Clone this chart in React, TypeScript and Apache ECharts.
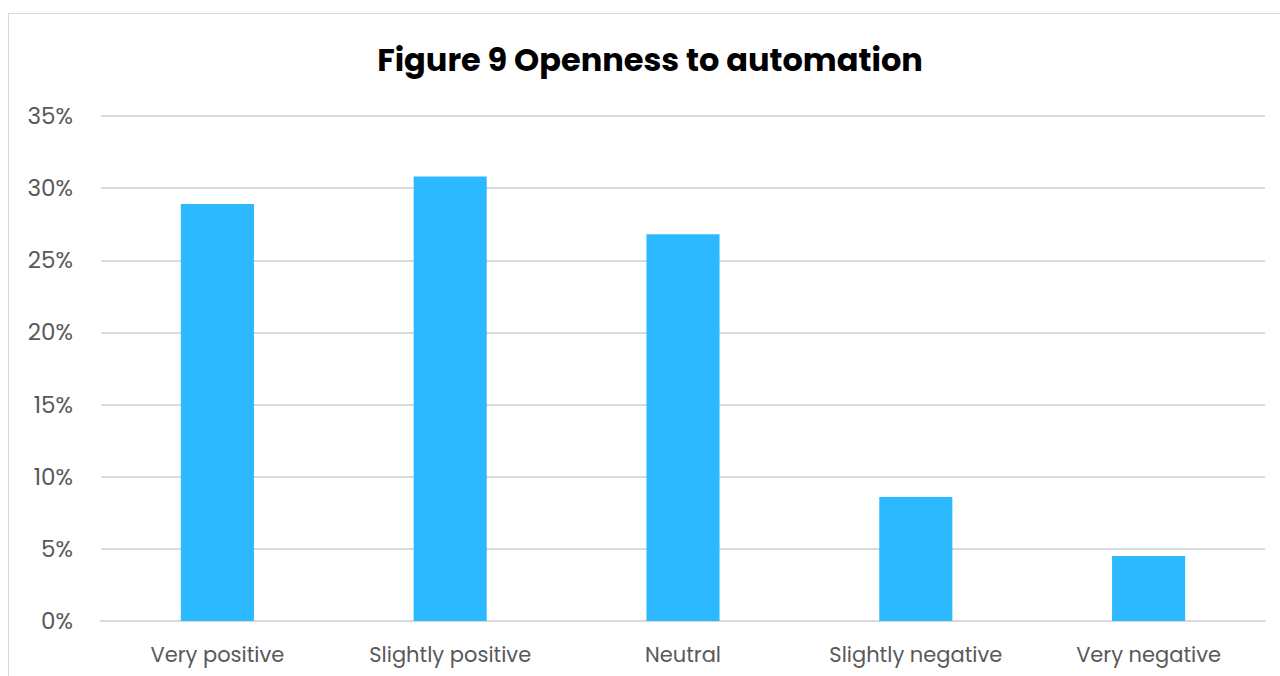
import React, { useEffect, useRef } from "react";
import * as echarts from "echarts";

const categories = ["Very positive", "Slightly positive", "Neutral", "Slightly negative", "Very negative"];
const values = [28.9, 30.8, 26.8, 8.6, 4.5];
const titleText = "Figure 9 Openness to automation";

export default function App() {
  const ref = useRef<HTMLDivElement>(null);
  useEffect(() => {
    document.body.style.overflow = "hidden";
    const chart = echarts.init(ref.current!, null, { renderer: "svg" });
    const font = "Poppins, 'Open Sans', sans-serif";
    chart.setOption({
      animation: false,
      graphic: [
        {
          type: "text",
          x: 641,
          y: 45,
          style: {
            text: titleText,
            fill: "#000000",
            font: `bold 32px ${font}`,
            textAlign: "center",
            textVerticalAlign: "middle",
          },
        },
      ],
      grid: { left: 92, right: 15, top: 102, bottom: 55 },
      xAxis: {
        type: "category",
        data: categories,
        axisLine: { show: true, lineStyle: { color: "#d9d9d9", width: 2 } },
        axisTick: { show: false },
        axisLabel: { color: "#595959", fontSize: 21, fontFamily: font, margin: 23 },
      },
      yAxis: {
        type: "value",
        min: 0,
        max: 35,
        interval: 5,
        axisLine: { show: false },
        axisTick: { show: false },
        splitLine: { lineStyle: { color: "#d9d9d9", width: 2 } },
        axisLabel: {
          color: "#595959",
          fontSize: 23,
          fontFamily: font,
          margin: 28,
          formatter: (v: number) => `${v}%`,
        },
      },
      series: [
        {
          type: "bar",
          data: values,
          barWidth: "31.4%",
          itemStyle: { color: "#2DB9FF" },
        },
      ],
    });
    return () => chart.dispose();
  }, []);
  return (
    <div
      style={{
        position: "absolute",
        left: 8,
        top: 13,
        width: 1272,
        height: 663,
        borderLeft: "1px solid #d9d9d9",
        borderTop: "1px solid #d9d9d9",
        boxSizing: "border-box",
        background: "#fff",
      }}
    >
      <div ref={ref} style={{ width: 1271, height: 662 }} />
    </div>
  );
}
